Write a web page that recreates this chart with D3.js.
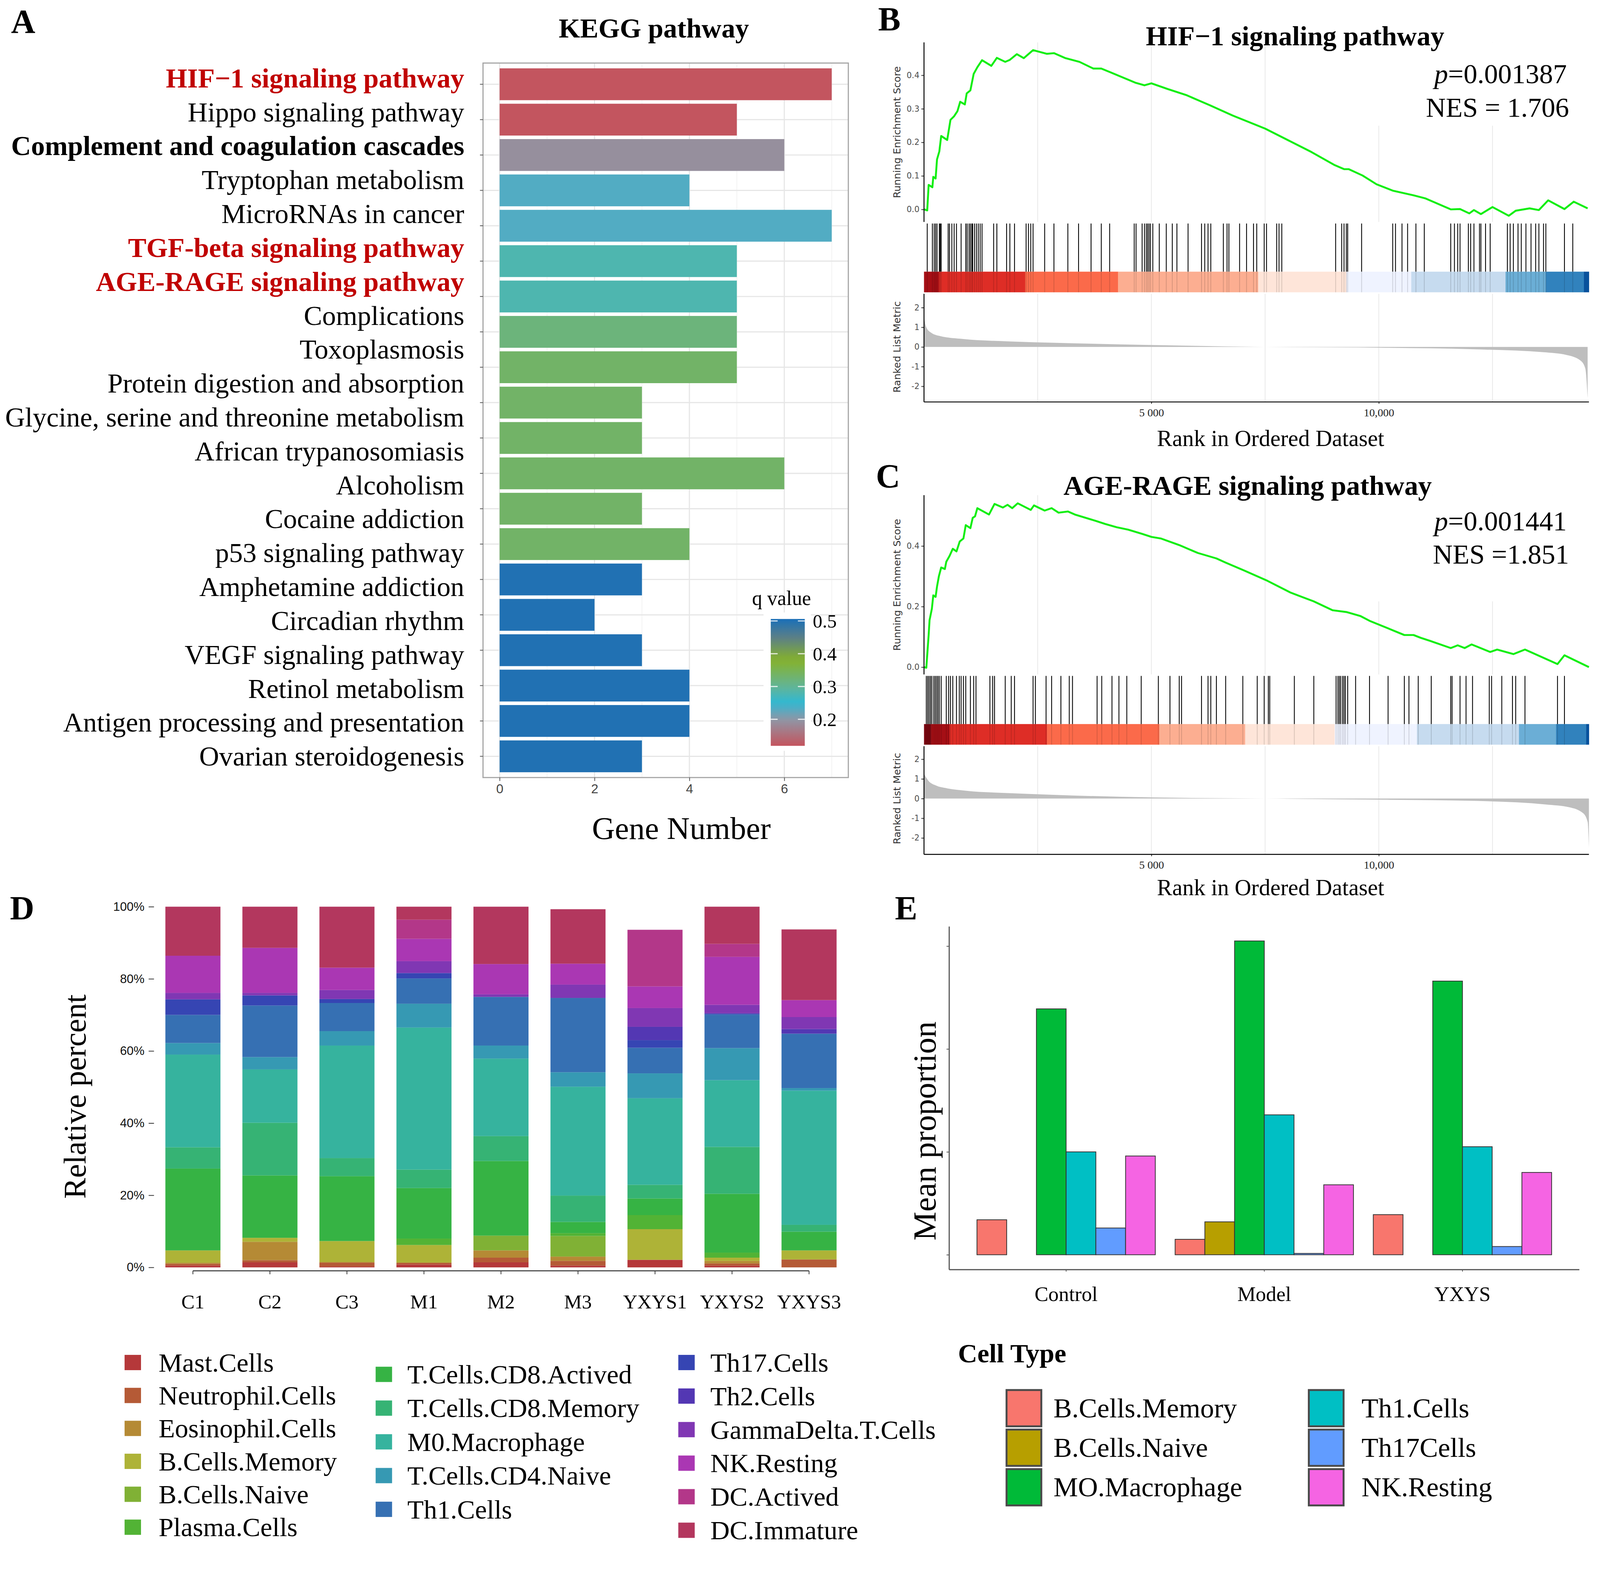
<!DOCTYPE html>
<html>
<head>
<meta charset="utf-8">
<script src="https://cdn.jsdelivr.net/npm/d3@7"></script>
<style>
  html, body { margin: 0; padding: 0; width: 100%; height: 100%; overflow: hidden; background: #fff; }
  #fig { width: 100%; height: 100%; }
  svg { display: block; }
</style>
</head>
<body>
<div id="fig"></div>
<script>
// ---------- data : panel A (KEGG) ----------
var pathwayLabels = ["HIF−1 signaling pathway", "Hippo signaling pathway", "Complement and coagulation cascades",
  "Tryptophan metabolism", "MicroRNAs in cancer", "TGF-beta signaling pathway", "AGE-RAGE signaling pathway",
  "Complications", "Toxoplasmosis", "Protein digestion and absorption", "Glycine, serine and threonine metabolism",
  "African trypanosomiasis", "Alcoholism", "Cocaine addiction", "p53 signaling pathway", "Amphetamine addiction",
  "Circadian rhythm", "VEGF signaling pathway", "Retinol metabolism", "Antigen processing and presentation",
  "Ovarian steroidogenesis"];
var redPathways = ["HIF−1 signaling pathway", "TGF-beta signaling pathway", "AGE-RAGE signaling pathway"];
var boldPathways = ["Complement and coagulation cascades"];
var geneCounts = [7, 5, 6, 4, 7, 5, 5, 5, 5, 3, 3, 6, 3, 4, 3, 2, 3, 4, 4, 3];
var qValues = [0.12, 0.12, 0.19, 0.232, 0.232, 0.28, 0.28, 0.32, 0.335, 0.335, 0.335, 0.335, 0.335, 0.335,
  0.5, 0.5, 0.5, 0.5, 0.5, 0.5];
var geneTicks = [0, 2, 4, 6];
var qTicks = [0.2, 0.3, 0.4, 0.5];

// ---------- data : panels B / C (GSEA) ----------
var rankMax = 14620;
var rankTicks = [5000, 10000];
var rankTickLabels = ["5 000", "10,000"];
var rankGrid = [2500, 5000, 7500, 10000, 12500];

var hifEs = [[0,0],[71,-0.003],[102,0.073],[184,0.066],[204,0.097],[255,0.092],[286,0.149],[337,0.173],
  [378,0.219],[510,0.207],[582,0.267],[663,0.278],[735,0.293],[796,0.321],[898,0.313],[939,0.346],
  [1020,0.355],[1092,0.404],[1173,0.424],[1276,0.445],[1480,0.428],[1602,0.452],[1786,0.440],[1888,0.446],
  [2041,0.463],[2194,0.451],[2398,0.475],[2704,0.464],[2857,0.466],[3112,0.451],[3418,0.440],[3724,0.420],
  [3898,0.420],[4133,0.407],[4643,0.378],[4847,0.370],[5000,0.376],[5357,0.359],[5765,0.341],[6276,0.311],
  [6786,0.280],[7500,0.241],[8010,0.206],[8520,0.171],[9031,0.132],[9235,0.120],[9337,0.120],[9643,0.101],
  [9949,0.075],[10306,0.056],[10765,0.042],[11020,0.033],[11582,0.0],[11786,0.001],[11990,-0.012],
  [12092,-0.002],[12245,-0.014],[12500,0.007],[12857,-0.019],[13010,-0.004],[13316,0.003],[13520,-0.002],
  [13724,0.027],[14082,0.001],[14286,0.023],[14592,0.003]];
var hifHits = [71,184,224,255,286,337,357,378,531,561,612,663,714,816,918,949,990,1020,1051,1071,1112,1153,
  1194,1235,1276,1531,1602,1816,1888,1990,2245,2296,2347,2398,2653,2857,3163,3398,3673,3898,4082,4622,4663,
  4796,4847,4888,4918,4949,4980,5031,5173,5327,5459,5561,5806,6102,6173,6245,6306,6582,6663,6704,6939,7092,
  7245,7316,7480,7531,7755,7806,7867,9051,9184,9235,9286,9316,9622,10306,10367,10510,10633,10816,11000,
  11582,11663,11735,11786,11969,12020,12092,12214,12245,12347,12449,12827,12888,12959,13061,13133,13235,
  13347,13449,13520,13622,13673,14082,14265];
var hifMetric = [[0,1.5],[51,1.0],[153,0.73],[357,0.55],[867,0.40],[1888,0.28],[2908,0.21],[4949,0.10],
  [7480,0],[10051,-0.04],[12092,-0.12],[13622,-0.27],[14133,-0.41],[14439,-0.70],[14541,-1.1],[14592,-2.6]];
var hifBandStarts = [0, 327, 2225, 4266, 7347, 9286, 10714, 12786, 13673, 14510];
var hifBandLevels = [1, 2, 3, 4, 5, 6, 7, 8, 9, 10];

var ageEs = [[0,0],[51,-0.002],[102,0.106],[122,0.155],[173,0.193],[204,0.237],[255,0.232],[286,0.266],
  [327,0.300],[378,0.329],[459,0.324],[490,0.348],[561,0.367],[633,0.391],[714,0.382],[786,0.415],
  [867,0.425],[918,0.469],[1020,0.459],[1071,0.493],[1122,0.498],[1173,0.525],[1429,0.504],[1551,0.539],
  [1735,0.527],[1837,0.536],[1939,0.525],[2061,0.541],[2347,0.519],[2418,0.534],[2653,0.517],[2806,0.525],
  [2959,0.510],[3163,0.514],[3316,0.504],[3776,0.483],[3980,0.473],[4235,0.462],[4490,0.454],[4796,0.440],
  [5000,0.430],[5204,0.425],[5612,0.403],[6020,0.377],[6429,0.359],[6633,0.345],[7041,0.319],[7551,0.285],
  [8061,0.246],[8571,0.217],[8980,0.188],[9286,0.182],[9592,0.169],[9796,0.153],[10204,0.128],[10561,0.106],
  [10765,0.106],[10918,0.097],[11122,0.087],[11582,0.063],[11735,0.072],[11888,0.063],[12041,0.075],
  [12449,0.050],[12602,0.058],[12959,0.043],[13214,0.058],[13929,0.010],[14082,0.039],[14620,0]];
var ageHits = [51,82,112,143,173,214,245,276,306,337,378,490,541,582,633,714,776,816,867,918,1020,1092,1143,
  1449,1510,1551,1786,1918,1990,2398,2449,2684,2806,3010,3194,3265,3806,3908,4133,4286,4459,4776,5153,5408,
  5612,5663,6102,6245,6306,6429,6633,7010,7327,7480,7571,7602,8143,8571,9061,9102,9133,9163,9204,9235,9265,
  9316,9490,9796,10204,10561,10663,10867,11153,11582,11612,11786,11918,12061,12429,12480,12704,12939,13010,
  13214,13929,14082];
var ageMetric = [[0,1.26],[102,0.89],[255,0.67],[510,0.52],[918,0.40],[1939,0.27],[2959,0.18],[5000,0.06],
  [7500,0],[10102,-0.06],[12143,-0.12],[13673,-0.30],[14184,-0.44],[14490,-0.74],[14592,-1.19],[14620,-2.5]];
var ageBandStarts = [0, 153, 561, 2704, 5173, 7061, 9030, 10837, 13082, 13898, 14561];
var ageBandLevels = [0, 1, 2, 3, 4, 5, 6, 7, 8, 9, 10];

// ---------- data : panel D (stacked relative percent) ----------
var samples = ["C1", "C2", "C3", "M1", "M2", "M3", "YXYS1", "YXYS2", "YXYS3"];
var cellTypes = ["Mast.Cells", "Neutrophil.Cells", "Eosinophil.Cells", "B.Cells.Memory", "B.Cells.Naive",
  "Plasma.Cells", "T.Cells.CD8.Actived", "T.Cells.CD8.Memory", "M0.Macrophage", "T.Cells.CD4.Naive",
  "Th1.Cells", "Th17.Cells", "Th2.Cells", "GammaDelta.T.Cells", "NK.Resting", "DC.Actived", "DC.Immature"];
// one row per sample, columns follow cellTypes (percent)
var relPercent = [
  [0.5, 0.5, 0.3, 3.4, 0, 0, 22.7, 5.9, 25.7, 3.2, 7.8, 4.3, 0, 1.8, 10.3, 0, 13.6],
  [1.4, 0.6, 5.1, 1.1, 0, 0, 17.3, 14.6, 14.8, 3.4, 14.3, 2.8, 0, 0.7, 12.5, 0, 11.4],
  [0.2, 1.1, 0.2, 5.8, 0, 0, 18.0, 5.0, 31.2, 4.0, 7.8, 1.1, 0, 2.5, 6.2, 0, 16.9],
  [0.8, 0.5, 0, 4.9, 0, 1.8, 14.0, 5.1, 39.4, 6.6, 7.0, 1.5, 0, 3.3, 6.2, 5.3, 3.6],
  [1.4, 1.3, 2.0, 0, 4.1, 0, 20.7, 6.9, 21.5, 3.6, 13.5, 0, 0, 0.7, 8.4, 0, 15.9],
  [0.5, 1.3, 1.2, 0, 5.7, 0.8, 3.1, 7.3, 30.2, 4.0, 20.6, 0, 0, 3.7, 5.8, 0, 15.1],
  [2.1, 0, 0, 8.5, 0, 3.9, 4.6, 3.8, 24.0, 6.9, 7.1, 2.1, 3.7, 5.2, 6.0, 15.7, 0],
  [0.5, 0.6, 0.7, 0.9, 0, 1.4, 16.3, 13.0, 18.5, 8.9, 9.3, 0.3, 0, 2.4, 13.3, 3.6, 10.3],
  [0, 2.2, 0, 2.5, 0, 0, 5.2, 1.9, 37.2, 0.7, 15.1, 0, 1.3, 3.3, 4.7, 0, 19.6]
];
var percentTicks = [0, 20, 40, 60, 80, 100];
var cellColumns = [["Mast.Cells", "Neutrophil.Cells", "Eosinophil.Cells", "B.Cells.Memory", "B.Cells.Naive", "Plasma.Cells"],
  ["T.Cells.CD8.Actived", "T.Cells.CD8.Memory", "M0.Macrophage", "T.Cells.CD4.Naive", "Th1.Cells"],
  ["Th17.Cells", "Th2.Cells", "GammaDelta.T.Cells", "NK.Resting", "DC.Actived", "DC.Immature"]];

// ---------- data : panel E (mean proportion) ----------
var groups = ["Control", "Model", "YXYS"];
var meanCellTypes = ["B.Cells.Memory", "B.Cells.Naive", "MO.Macrophage", "Th1.Cells", "Th17Cells", "NK.Resting"];
// one row per group, columns follow meanCellTypes
var meanProportion = [
  [0.034, 0, 0.239, 0.100, 0.026, 0.096],
  [0.015, 0.032, 0.305, 0.136, 0.0013, 0.068],
  [0.039, 0, 0.266, 0.105, 0.008, 0.080]
];
var meanTicks = [0, 0.1, 0.2, 0.3];

// ---------- setup ----------
var W = 4187, H = 4053;
var serif = '"Liberation Serif", "Times New Roman", serif';
var sans = '"DejaVu Sans", Verdana, sans-serif';
var narrow = '"Liberation Sans Narrow", "Liberation Sans", Arial, sans-serif';

// the drawing uses a fixed 4187 x 4053 coordinate system, scaled to the window
var svg = d3.select("#fig").append("svg")
  .attr("width", "100%").attr("height", "100%")
  .attr("viewBox", "0 0 " + W + " " + H)
  .attr("preserveAspectRatio", "xMinYMin meet");
svg.append("rect").attr("width", W).attr("height", H).attr("fill", "#fff");
var defs = svg.append("defs");

function panelLetter(txt, x, y) {
  svg.append("text").attr("x", x).attr("y", y).text(txt)
    .attr("font-family", serif).attr("font-weight", "bold").attr("font-size", 88);
}

drawKegg();
drawGsea({ es: hifEs, hits: hifHits, metric: hifMetric, bandStarts: hifBandStarts, bandLevels: hifBandLevels,
  title: "HIF−1 signaling pathway", p: "0.001387", nes: "NES = 1.706", esTicks: [0, 0.1, 0.2, 0.3, 0.4],
  top: 111, es0: 548, es04: 197, esBottom: 581, hitTop: 585, bandTop: 711, bandBottom: 765,
  mTop: 769, m2: 805, mMinus2: 1011, axisY: 1052, titleX: 3389, titleY: 119, xTitleY: 1167,
  pY: 218, nesY: 306, boxBottom: 329, letter: "B", letterX: 2298, letterY: 80 });
drawGsea({ es: ageEs, hits: ageHits, metric: ageMetric, bandStarts: ageBandStarts, bandLevels: ageBandLevels,
  title: "AGE-RAGE signaling pathway", p: "0.001441", nes: "NES =1.851", esTicks: [0, 0.2, 0.4],
  top: 1296, es0: 1746, es04: 1429, esBottom: 1765, hitTop: 1769, bandTop: 1895, bandBottom: 1949,
  mTop: 1953, m2: 1987, mMinus2: 2193, axisY: 2236, titleX: 3265, titleY: 1295, xTitleY: 2343,
  pY: 1388, nesY: 1475, boxBottom: 1574, letter: "C", letterX: 2292, letterY: 1276 });
drawStacked();
drawMeans();

// ---------- panel A ----------
function drawKegg() {
  var g = svg.append("g").attr("class", "kegg");
  var left = 1264, right = 2220, top = 165, bottom = 2035;

  var x = d3.scaleLinear().domain([-0.35, 7.35]).range([left, right]);
  var y = d3.scaleBand().domain(d3.range(geneCounts.length)).range([top, bottom])
    .paddingInner(0.1).paddingOuter(0.15);
  var yLab = d3.scalePoint().domain(pathwayLabels).range([205, 1980]);
  var qColor = d3.scaleLinear()
    .domain([0.119, 0.2, 0.25, 0.3, 0.38, 0.45, 0.506])
    .range(["#c4545e", "#8f97a6", "#2fb8d4", "#63b496", "#86b22a", "#5b7f88", "#1a6fb8"]);

  // grid
  g.selectAll(".vminor").data([1, 3, 5, 7]).enter().append("line")
    .attr("x1", x).attr("x2", x).attr("y1", top).attr("y2", bottom)
    .attr("stroke", "#f2f2f2").attr("stroke-width", 2);
  g.selectAll(".vmajor").data(geneTicks).enter().append("line")
    .attr("x1", x).attr("x2", x).attr("y1", top).attr("y2", bottom)
    .attr("stroke", "#e6e6e6").attr("stroke-width", 3);
  g.selectAll(".hgrid").data(d3.range(geneCounts.length)).enter().append("line")
    .attr("x1", left).attr("x2", right)
    .attr("y1", function(d) { return y(d) + y.bandwidth() / 2; })
    .attr("y2", function(d) { return y(d) + y.bandwidth() / 2; })
    .attr("stroke", "#e6e6e6").attr("stroke-width", 3);

  // bars
  g.selectAll(".bar").data(geneCounts).enter().append("rect")
    .attr("x", x(0))
    .attr("y", function(d, i) { return y(i); })
    .attr("width", function(d) { return x(d) - x(0); })
    .attr("height", y.bandwidth())
    .attr("fill", function(d, i) { return qColor(qValues[i]); });

  g.append("rect").attr("x", left).attr("y", top).attr("width", right - left).attr("height", bottom - top)
    .attr("fill", "none").attr("stroke", "#a6a6a6").attr("stroke-width", 3);

  // x axis
  var xa = g.append("g").attr("transform", "translate(0," + bottom + ")")
    .call(d3.axisBottom(x).tickValues(geneTicks).tickSize(9).tickPadding(8));
  xa.select(".domain").remove();
  xa.selectAll(".tick line").attr("stroke", "#555").attr("stroke-width", 2);
  xa.selectAll("text").attr("font-family", narrow).attr("font-size", 34).attr("fill", "#444");

  // y ticks (at bars), labels overlaid separately
  var ya = g.append("g").attr("transform", "translate(" + left + ",0)")
    .call(d3.axisLeft(y).tickSize(8).tickFormat(""));
  ya.select(".domain").remove();
  ya.selectAll(".tick line").attr("stroke", "#555").attr("stroke-width", 2);

  g.selectAll(".plabel").data(pathwayLabels).enter().append("text")
    .attr("x", 1215).attr("y", function(d) { return yLab(d); }).attr("dy", "0.33em")
    .attr("text-anchor", "end").attr("font-family", serif).attr("font-size", 72)
    .attr("font-weight", function(d) {
      return (redPathways.indexOf(d) >= 0 || boldPathways.indexOf(d) >= 0) ? "bold" : "normal";
    })
    .attr("fill", function(d) { return redPathways.indexOf(d) >= 0 ? "#c00000" : "#000"; })
    .text(function(d) { return d; });

  g.append("text").attr("x", 1711).attr("y", 98).attr("text-anchor", "middle")
    .attr("font-family", serif).attr("font-weight", "bold").attr("font-size", 72).text("KEGG pathway");
  g.append("text").attr("x", 1783).attr("y", 2196).attr("text-anchor", "middle")
    .attr("font-family", serif).attr("font-size", 83).text("Gene Number");

  // q value colour bar
  var qy = d3.scaleLinear().domain([0.119, 0.506]).range([1952, 1620]);
  g.append("rect").attr("x", 1998).attr("y", 1603).attr("width", 124).attr("height", 362).attr("fill", "#fff");
  var grad = defs.append("linearGradient").attr("id", "qgrad")
    .attr("x1", 0).attr("y1", 1).attr("x2", 0).attr("y2", 0);
  d3.range(0, 1.0001, 0.05).forEach(function(t) {
    var q = 0.119 + t * (0.506 - 0.119);
    grad.append("stop").attr("offset", t).attr("stop-color", qColor(q));
  });
  g.append("rect").attr("x", 2017).attr("y", qy(0.506)).attr("width", 89)
    .attr("height", qy(0.119) - qy(0.506)).attr("fill", "url(#qgrad)");
  qTicks.forEach(function(q) {
    g.append("line").attr("x1", 2017).attr("x2", 2035).attr("y1", qy(q)).attr("y2", qy(q))
      .attr("stroke", "#fff").attr("stroke-width", 3).attr("opacity", 0.8);
    g.append("line").attr("x1", 2088).attr("x2", 2106).attr("y1", qy(q)).attr("y2", qy(q))
      .attr("stroke", "#fff").attr("stroke-width", 3).attr("opacity", 0.8);
    g.append("text").attr("x", 2127).attr("y", qy(q)).attr("dy", "0.36em")
      .attr("font-family", serif).attr("font-size", 50).text(q.toFixed(1));
  });
  g.append("text").attr("x", 1968).attr("y", 1583).attr("font-family", serif).attr("font-size", 53).text("q value");

  panelLetter("A", 29, 86);
}

// ---------- panels B, C ----------
function drawGsea(o) {
  var g = svg.append("g");
  var x0 = 2418, x1 = 4158;
  var x = d3.scaleLinear().domain([0, rankMax]).range([x0, x1]);
  var yEs = d3.scaleLinear().domain([0, 0.4]).range([o.es0, o.es04]);
  var yM = d3.scaleLinear().domain([-2, 2]).range([o.mMinus2, o.m2]);
  var bandPalette = ["#7a0610", "#a50f15", "#de2d26", "#fb6a4a", "#fcae91", "#fee5d9",
    "#eff3ff", "#c6dbef", "#6baed6", "#3182bd", "#08519c"];

  // grid
  rankGrid.forEach(function(r) {
    g.append("line").attr("x1", x(r)).attr("x2", x(r)).attr("y1", o.top).attr("y2", o.esBottom)
      .attr("stroke", "#e8e8e8").attr("stroke-width", 2);
    g.append("line").attr("x1", x(r)).attr("x2", x(r)).attr("y1", o.mTop).attr("y2", o.axisY)
      .attr("stroke", "#e8e8e8").attr("stroke-width", 2);
  });
  // white box behind statistics
  g.append("rect").attr("x", 3590).attr("y", o.top).attr("width", x1 - 3590).attr("height", o.boxBottom - o.top)
    .attr("fill", "#fff");

  // running enrichment score
  g.append("path").datum(o.es)
    .attr("d", d3.line().x(function(d) { return x(d[0]); }).y(function(d) { return yEs(d[1]); }))
    .attr("fill", "none").attr("stroke", "#12ee12").attr("stroke-width", 5).attr("stroke-linejoin", "round");

  // colour band
  g.selectAll(".band").data(o.bandStarts).enter().append("rect")
    .attr("x", function(d) { return x(d); })
    .attr("width", function(d, i) {
      var end = i < o.bandStarts.length - 1 ? o.bandStarts[i + 1] : rankMax;
      return x(end) - x(d) + 0.5;
    })
    .attr("y", o.bandTop).attr("height", o.bandBottom - o.bandTop)
    .attr("fill", function(d, i) { return bandPalette[o.bandLevels[i]]; });

  // hits
  g.selectAll(".hit").data(o.hits).enter().append("line")
    .attr("x1", function(d) { return x(d); }).attr("x2", function(d) { return x(d); })
    .attr("y1", o.hitTop).attr("y2", o.bandTop)
    .attr("stroke", "#000").attr("stroke-width", 2.2);
  g.selectAll(".hitb").data(o.hits).enter().append("line")
    .attr("x1", function(d) { return x(d); }).attr("x2", function(d) { return x(d); })
    .attr("y1", o.bandTop).attr("y2", o.bandBottom)
    .attr("stroke", "#000").attr("stroke-width", 2).attr("stroke-opacity", 0.15);

  // ranked list metric
  g.append("path").datum(o.metric)
    .attr("d", d3.area().curve(d3.curveMonotoneX)
      .x(function(d) { return x(d[0]); }).y0(yM(0)).y1(function(d) { return yM(d[1]); }))
    .attr("fill", "#bebebe");

  // axes
  var esAxis = g.append("g").attr("transform", "translate(" + x0 + ",0)")
    .call(d3.axisLeft(yEs).tickValues(o.esTicks).tickSize(7).tickPadding(5).tickFormat(d3.format(".1f")));
  esAxis.select(".domain").remove();
  g.append("line").attr("x1", x0).attr("x2", x0).attr("y1", o.top).attr("y2", o.esBottom)
    .attr("stroke", "#000").attr("stroke-width", 2.5);

  var mAxis = g.append("g").attr("transform", "translate(" + x0 + ",0)")
    .call(d3.axisLeft(yM).tickValues([2, 1, 0, -1, -2]).tickSize(7).tickPadding(5)
      .tickFormat(function(d) { return String(d); }));
  mAxis.select(".domain").remove();
  [esAxis, mAxis].forEach(function(a) {
    a.selectAll(".tick line").attr("stroke", "#333").attr("stroke-width", 2);
    a.selectAll("text").attr("font-family", sans).attr("font-size", 21).attr("fill", "#4d4d4d");
  });
  g.append("line").attr("x1", x0).attr("x2", x0).attr("y1", o.mTop).attr("y2", o.axisY)
    .attr("stroke", "#000").attr("stroke-width", 2.5);

  var xa = g.append("g").attr("transform", "translate(0," + o.axisY + ")")
    .call(d3.axisBottom(x).tickValues(rankTicks).tickSize(5).tickPadding(12)
      .tickFormat(function(d, i) { return rankTickLabels[i]; }));
  xa.select(".domain").remove();
  xa.selectAll(".tick line").attr("stroke", "#333").attr("stroke-width", 2);
  xa.selectAll("text").attr("font-family", serif).attr("font-size", 29).attr("fill", "#222");
  g.append("line").attr("x1", x0).attr("x2", x1).attr("y1", o.axisY).attr("y2", o.axisY)
    .attr("stroke", "#000").attr("stroke-width", 2.5);

  // axis titles
  var esMid = (o.top + o.esBottom) / 2;
  g.append("text").attr("transform", "translate(2347," + esMid + ") rotate(-90)").attr("dy", "0.35em")
    .attr("text-anchor", "middle").attr("font-family", sans).attr("font-size", 26).attr("fill", "#333")
    .text("Running Enrichment Score");
  g.append("text").attr("transform", "translate(2347," + yM(0) + ") rotate(-90)").attr("dy", "0.35em")
    .attr("text-anchor", "middle").attr("font-family", sans).attr("font-size", 26).attr("fill", "#333")
    .text("Ranked List Metric");
  g.append("text").attr("x", 3325).attr("y", o.xTitleY).attr("text-anchor", "middle")
    .attr("font-family", serif).attr("font-size", 60).text("Rank in Ordered Dataset");

  g.append("text").attr("x", o.titleX).attr("y", o.titleY).attr("text-anchor", "middle")
    .attr("font-family", serif).attr("font-weight", "bold").attr("font-size", 72).text(o.title);

  var pt = g.append("text").attr("x", 4100).attr("y", o.pY).attr("text-anchor", "end")
    .attr("font-family", serif).attr("font-size", 72);
  pt.append("tspan").attr("font-style", "italic").text("p");
  pt.append("tspan").text("=" + o.p);
  g.append("text").attr("x", 4106).attr("y", o.nesY).attr("text-anchor", "end")
    .attr("font-family", serif).attr("font-size", 72).text(o.nes);

  panelLetter(o.letter, o.letterX, o.letterY);
}

// ---------- panel D ----------
function drawStacked() {
  var g = svg.append("g");
  var cellColor = d3.scaleOrdinal().domain(cellTypes).range([
    "#b5383a", "#b55a36", "#b58a35", "#aeb337", "#80b135", "#52b335", "#36b344", "#36b374", "#36b39e",
    "#3699b3", "#3670b3", "#3645b3", "#5337b3", "#8037b3", "#aa37b3", "#b33789", "#b3375e"]);

  var x = d3.scaleBand().domain(samples).range([332, 2290]).paddingInner(0.285).paddingOuter(0.5);
  var y = d3.scaleLinear().domain([0, 100]).range([3317, 2373]);

  var stack = d3.stack().keys(d3.range(cellTypes.length)).value(function(d, k) { return d[k]; });
  var series = stack(relPercent);

  g.selectAll(".layer").data(series).enter().append("g")
    .attr("fill", function(d) { return cellColor(cellTypes[d.key]); })
    .selectAll("rect").data(function(d) { return d; }).enter().append("rect")
    .attr("x", function(d, i) { return x(samples[i]); })
    .attr("width", x.bandwidth())
    .attr("y", function(d) { return y(d[1]); })
    .attr("height", function(d) { return y(d[0]) - y(d[1]); });

  var ya = g.append("g").attr("transform", "translate(403,0)")
    .call(d3.axisLeft(y).tickValues(percentTicks).tickSize(14).tickPadding(11)
      .tickFormat(function(d) { return d + "%"; }));
  ya.select(".domain").remove();
  ya.selectAll(".tick line").attr("stroke", "#333").attr("stroke-width", 2);
  ya.selectAll("text").attr("font-family", narrow).attr("font-size", 32).attr("fill", "#111");

  var axisY = 3326;
  var xa = g.append("g").attr("transform", "translate(0," + axisY + ")")
    .call(d3.axisBottom(x).tickSize(9));
  xa.select(".domain").remove();
  xa.selectAll(".tick line").attr("stroke", "#333").attr("stroke-width", 2);
  xa.selectAll("text").attr("y", 98).attr("dy", null)
    .attr("font-family", serif).attr("font-size", 52).attr("fill", "#000");
  g.append("line")
    .attr("x1", x(samples[0]) + x.bandwidth() / 2).attr("x2", x(samples[samples.length - 1]) + x.bandwidth() / 2)
    .attr("y1", axisY).attr("y2", axisY).attr("stroke", "#333").attr("stroke-width", 2.5);

  g.append("text").attr("transform", "translate(195,2870) rotate(-90)").attr("dy", "0.35em")
    .attr("text-anchor", "middle").attr("font-family", serif).attr("font-size", 82).text("Relative percent");

  // legend, three columns
  var cols = [{ sx: 326, tx: 415, y0: 3566, step: 86.2 },
    { sx: 983, tx: 1066, y0: 3597, step: 88.3 },
    { sx: 1775, tx: 1859, y0: 3566, step: 87.8 }];
  cellColumns.forEach(function(names, c) {
    var col = cols[c];
    var lg = g.append("g");
    lg.selectAll("rect").data(names).enter().append("rect")
      .attr("x", col.sx).attr("y", function(d, i) { return col.y0 + i * col.step - 20; })
      .attr("width", 43).attr("height", 40).attr("fill", function(d) { return cellColor(d); });
    lg.selectAll("text").data(names).enter().append("text")
      .attr("x", col.tx).attr("y", function(d, i) { return col.y0 + i * col.step; }).attr("dy", "0.34em")
      .attr("font-family", serif).attr("font-size", 70).text(function(d) { return d; });
  });

  panelLetter("D", 26, 2406);
}

// ---------- panel E ----------
function drawMeans() {
  var g = svg.append("g");
  var typeColor = d3.scaleOrdinal().domain(meanCellTypes)
    .range(["#f8766d", "#b79f00", "#00ba38", "#00bfc4", "#619cff", "#f564e3"]);
  var left = 2484, right = 4133, top = 2425, bottom = 3323;

  var x0 = d3.scaleBand().domain(groups).range([left, right]).paddingInner(0.1).paddingOuter(0.14);
  var x1 = d3.scaleBand().domain(meanCellTypes).range([0, x0.bandwidth()]);
  var y = d3.scaleLinear().domain([-0.0145, 0.319]).range([bottom, top]);

  g.selectAll(".grp").data(meanProportion).enter().append("g")
    .attr("transform", function(d, i) { return "translate(" + x0(groups[i]) + ",0)"; })
    .selectAll("rect").data(function(d) { return d; }).enter().append("rect")
    .attr("x", function(d, j) { return x1(meanCellTypes[j]); })
    .attr("width", x1.bandwidth())
    .attr("y", function(d) { return y(d); })
    .attr("height", function(d) { return y(0) - y(d); })
    .attr("fill", function(d, j) { return typeColor(meanCellTypes[j]); })
    .attr("stroke", "#333").attr("stroke-width", 2);

  var ya = g.append("g").attr("transform", "translate(" + left + ",0)")
    .call(d3.axisLeft(y).tickValues(meanTicks).tickSize(7).tickFormat(""));
  ya.select(".domain").remove();
  ya.selectAll(".tick line").attr("stroke", "#555").attr("stroke-width", 2);

  var xa = g.append("g").attr("transform", "translate(0," + bottom + ")")
    .call(d3.axisBottom(x0).tickSize(5));
  xa.select(".domain").remove();
  xa.selectAll(".tick line").attr("stroke", "#555").attr("stroke-width", 2);
  xa.selectAll("text").attr("y", 82).attr("dy", null)
    .attr("font-family", serif).attr("font-size", 54).attr("fill", "#000");

  g.append("line").attr("x1", left).attr("x2", left).attr("y1", top).attr("y2", bottom)
    .attr("stroke", "#555").attr("stroke-width", 3);
  g.append("line").attr("x1", left).attr("x2", right).attr("y1", bottom).attr("y2", bottom)
    .attr("stroke", "#555").attr("stroke-width", 3);

  g.append("text").attr("transform", "translate(2418,2960) rotate(-90)").attr("dy", "0.35em")
    .attr("text-anchor", "middle").attr("font-family", serif).attr("font-size", 85).text("Mean proportion");

  // legend
  g.append("text").attr("x", 2507).attr("y", 3566).attr("font-family", serif).attr("font-weight", "bold")
    .attr("font-size", 70).text("Cell Type");
  meanCellTypes.forEach(function(name, i) {
    var col = Math.floor(i / 3), row = i % 3;
    var kx = col === 0 ? 2634 : 3425;
    var tx = col === 0 ? 2757 : 3563;
    var ky = 3638 + row * 103.5;
    g.append("rect").attr("x", kx).attr("y", ky).attr("width", 91).attr("height", 95)
      .attr("fill", typeColor(name)).attr("stroke", "#4a4a4a").attr("stroke-width", 5);
    g.append("text").attr("x", tx).attr("y", ky + 47).attr("dy", "0.34em")
      .attr("font-family", serif).attr("font-size", 72).text(name);
  });

  panelLetter("E", 2342, 2406);
}
</script>
</body>
</html>
